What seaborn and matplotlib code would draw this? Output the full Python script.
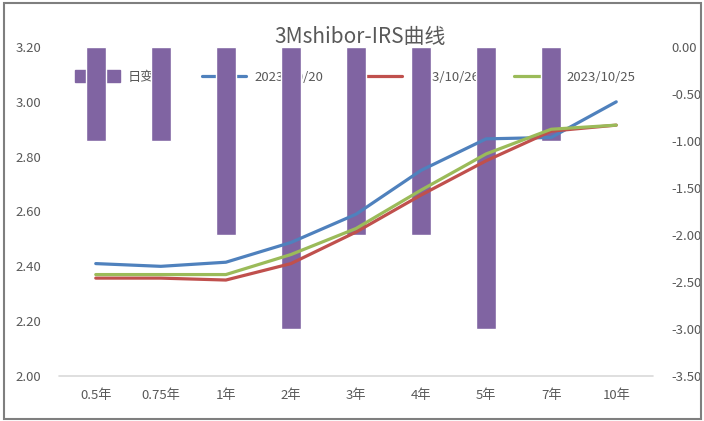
import matplotlib
matplotlib.use("Agg")
import matplotlib.pyplot as plt
import seaborn as sns
import pandas as pd
from matplotlib.patches import Rectangle

tenors = ["0.5年", "0.75年", "1年", "2年", "3年", "4年", "5年", "7年", "10年"]
daily_change = [-1.0, -1.0, -2.0, -3.0, -2.0, -2.0, -3.0, -1.0, 0.0]
irs_1020 = [2.41, 2.40, 2.415, 2.487, 2.59, 2.75, 2.865, 2.87, 3.00]
irs_1026 = [2.357, 2.357, 2.35, 2.41, 2.525, 2.66, 2.785, 2.893, 2.915]
irs_1025 = [2.37, 2.37, 2.37, 2.443, 2.538, 2.678, 2.81, 2.90, 2.915]
series_names = ["2023/10/20", "2023/10/26", "2023/10/25"]
left_ticks = [2.00, 2.20, 2.40, 2.60, 2.80, 3.00, 3.20]
right_ticks = [-3.50, -3.00, -2.50, -2.00, -1.50, -1.00, -0.50, 0.00]

sns.set_theme(style="white")
plt.rcParams["font.family"] = ["Noto Sans CJK SC", "DejaVu Sans"]

purple = "#8064A2"
colors = ["#4F81BD", "#C0504D", "#9BBB59"]
text_color = "#595959"

fig = plt.figure(figsize=(7.04, 4.21), dpi=100)
ax = fig.add_axes([59 / 704, 1 - 376 / 421, (653 - 59) / 704, (376 - 47) / 421])

# bars (right axis)
bar_df = pd.DataFrame({"tenor": tenors, "chg": daily_change})
sns.barplot(data=bar_df, x="tenor", y="chg", color=purple, saturation=1,
            width=0.3, ax=ax)
ax.set_ylim(-3.5, 0)
ax.set_yticks(right_ticks)
ax.set_yticklabels(["%.2f" % v for v in right_ticks])

# lines (left axis)
ax2 = ax.twinx()
line_df = pd.DataFrame({"tenor": tenors * 3,
                        "rate": irs_1020 + irs_1026 + irs_1025,
                        "date": sum([[n] * len(tenors) for n in series_names], [])})
sns.lineplot(data=line_df, x="tenor", y="rate", hue="date", palette=colors,
             linewidth=2.3, ax=ax2, legend=False, sort=False)
ax2.set_ylim(2.0, 3.2)
ax2.set_yticks(left_ticks)
ax2.set_yticklabels(["%.2f" % v for v in left_ticks])
ax.yaxis.tick_right()
ax2.yaxis.tick_left()

for a in (ax, ax2):
    a.set_xlabel("")
    a.set_ylabel("")
    for s in a.spines.values():
        s.set_visible(False)
    a.tick_params(length=0, labelsize=9.5, labelcolor=text_color)
ax.tick_params(axis="y", pad=13)
ax2.tick_params(axis="y", pad=13)
ax.tick_params(axis="x", pad=9)
ax.axhline(-3.5, color="#D9D9D9", linewidth=1.2, clip_on=False)

# legend sits under the bars, like the original
handles = [Rectangle((0, 0), 1, 1, color=purple)]
handles += [plt.Line2D([], [], color=c, linewidth=2.3) for c in colors]
leg = ax.legend(handles, ["日变化"] + series_names, loc="center",
                bbox_to_anchor=(355 / 704, 1 - 77 / 421), bbox_transform=fig.transFigure,
                ncol=4, frameon=False, fontsize=9.5, handlelength=3.4,
                handleheight=0.95, handletextpad=0.6, columnspacing=2.6,
                labelcolor=text_color)
leg.set_zorder(0.5)

fig.text(360 / 704, 1 - 37 / 421, "3Mshibor-IRS曲线", ha="center", va="center",
         fontsize=15, color=text_color)

fig.patches.append(Rectangle((0.006, 0.004), 0.99, 0.99, transform=fig.transFigure,
                             fill=False, edgecolor="#7F7F7F", linewidth=1.5))

fig.savefig("out.png", dpi=100)
